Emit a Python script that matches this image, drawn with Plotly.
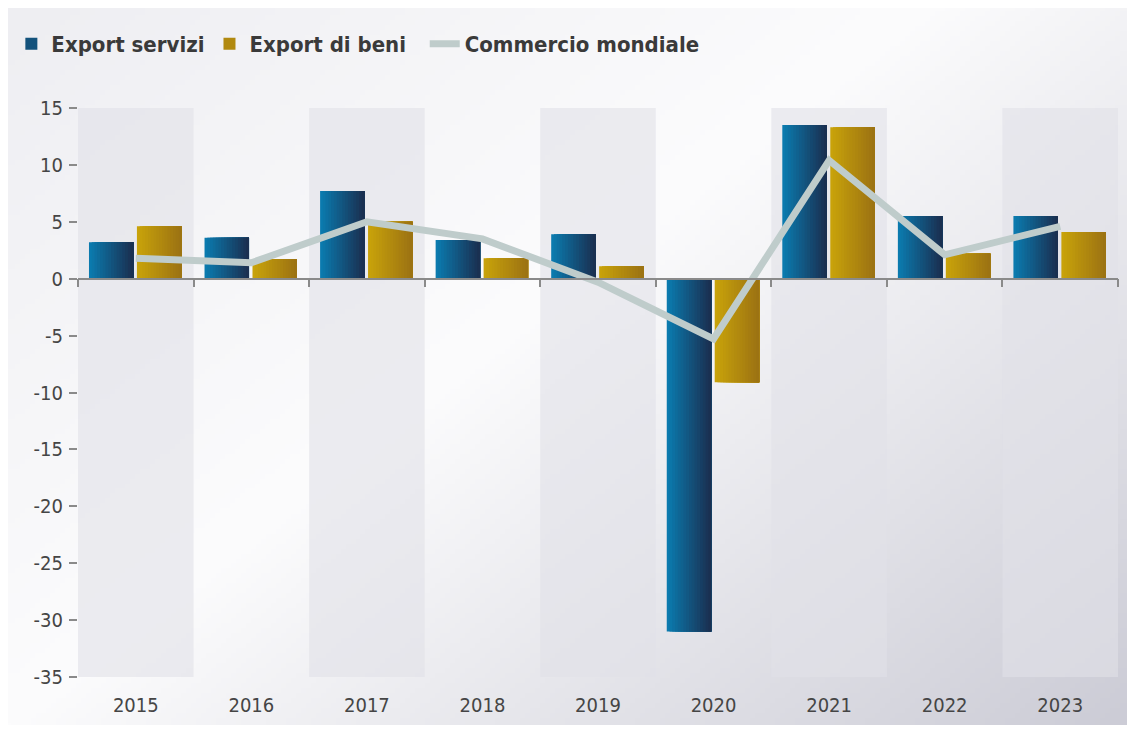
import base64
import struct
import zlib

import numpy as np
import plotly.graph_objects as go

# data (variazioni %)
years = ["2015", "2016", "2017", "2018", "2019", "2020", "2021", "2022", "2023"]
export_servizi = [3.2, 3.6, 7.7, 3.4, 3.9, -31.0, 13.5, 5.5, 5.5]
export_beni = [4.6, 1.7, 5.0, 1.8, 1.1, -9.1, 13.3, 2.2, 4.1]
commercio_mondiale = [1.8, 1.4, 5.0, 3.5, -0.3, -5.3, 10.4, 2.1, 4.6]
y_ticks = [15, 10, 5, 0, -5, -10, -15, -20, -25, -30, -35]
y_ticktext = ["15", "10", "5", "0", "-5", "-10", "-15", "-20", "-25", "-30", "-35"]

# page body has an 8px margin, so the figure is a bit smaller than the window
W, H = 1119, 717
ML, MR, MT, MB = 70, 9, 100, 48
FONT = "DejaVu Sans Condensed, Liberation Sans Narrow, sans-serif"


def lerp_hex(c1, c2, t):
    a = [int(c1[i:i + 2], 16) for i in (1, 3, 5)]
    b = [int(c2[i:i + 2], 16) for i in (1, 3, 5)]
    return "#" + "".join(f"{round(x + (y - x) * t):02x}" for x, y in zip(a, b))


def gradient_png():
    # diagonal light grey -> white -> grey background, small png stretched over the page
    w, h = 224, 144
    xs = np.linspace(0, 1, w)[None, :]
    ys = np.linspace(0, 1, h)[:, None]
    t = xs * 0.55 + ys * 0.45
    stops = [(0.0, (238, 238, 242)), (0.45, (252, 252, 253)), (1.0, (204, 204, 214))]
    img = np.zeros((h, w, 3))
    for ch in range(3):
        img[..., ch] = np.interp(t, [s[0] for s in stops], [s[1][ch] for s in stops])
    img = img.astype(np.uint8)
    raw = b"".join(b"\x00" + row.tobytes() for row in img)

    def chunk(tag, data):
        c = tag + data
        return struct.pack(">I", len(data)) + c + struct.pack(">I", zlib.crc32(c) & 0xffffffff)

    png = b"\x89PNG\r\n\x1a\n"
    png += chunk(b"IHDR", struct.pack(">IIBBBBB", w, h, 8, 2, 0, 0, 0))
    png += chunk(b"IDAT", zlib.compress(raw, 9))
    png += chunk(b"IEND", b"")
    return "data:image/png;base64," + base64.b64encode(png).decode()


fig = go.Figure()

# bars with a horizontal gradient: slices painted left to right, each one
# running to the bar's right edge so there are no seams
N = 16
bar_w = 0.385
series = [
    ("Export servizi", export_servizi, "#0b7db1", "#1a2d4e", -0.405),
    ("Export di beni\u00a0\u00a0", export_beni, "#c9a40a", "#9b7113", 0.01),
]
for name, vals, c1, c2, off in series:
    step = bar_w / N
    for i in range(N):
        fig.add_trace(go.Bar(
            x=years, y=vals, name=name,
            width=bar_w - i * step, offset=off + i * step,
            marker=dict(color=lerp_hex(c1, c2, (i + 0.5) / N), line=dict(width=0)),
            legendgroup=name, showlegend=(i == N // 2),
            hoverinfo="skip" if i != N - 1 else None,
        ))

fig.add_trace(go.Scatter(
    x=years, y=commercio_mondiale, name="Commercio mondiale",
    mode="lines", line=dict(color="#bfcccb", width=7),
))

# dummy trace so the zero-line axis gets drawn
fig.add_trace(go.Scatter(x=years, y=[None] * len(years), xaxis="x2",
                         showlegend=False, hoverinfo="skip"))

# alternating background bands
shapes = []
for i in range(0, len(years), 2):
    shapes.append(dict(type="rect", xref="x", yref="y", x0=i - 0.5, x1=i + 0.5,
                       y0=-35, y1=15, fillcolor="rgba(225,225,232,0.6)",
                       line=dict(width=0), layer="below"))

pw, ph = W - ML - MR, H - MT - MB
fig.update_layout(
    width=W, height=H,
    margin=dict(l=ML, r=MR, t=MT, b=MB),
    paper_bgcolor="white",
    plot_bgcolor="rgba(0,0,0,0)",
    barmode="overlay",
    shapes=shapes,
    images=[dict(source=gradient_png(), xref="paper", yref="paper",
                 x=-ML / pw, y=1 + MT / ph, sizex=W / pw, sizey=H / ph,
                 xanchor="left", yanchor="top", sizing="stretch", layer="below")],
    font=dict(family=FONT, color="#454545"),
    legend=dict(orientation="h", xref="container", yref="container",
                x=0.003, y=1 - 36 / H, xanchor="left", yanchor="middle",
                font=dict(size=22, color="#3a3a3a", weight="bold"),
                bgcolor="rgba(0,0,0,0)", itemwidth=30, tracegroupgap=0),
    xaxis=dict(type="category", range=[-0.5, 8.5], showline=False, ticks="",
               showgrid=False, tickfont=dict(size=20, color="#454545"),
               ticklabelstandoff=14),
    xaxis2=dict(type="category", matches="x", overlaying="x", anchor="free",
                position=35 / 50, showline=True, linecolor="#8a8a8a", linewidth=1.5,
                ticks="outside", tickson="boundaries", ticklen=8, tickcolor="#8a8a8a",
                tickwidth=1.5, showticklabels=False, showgrid=False),
    yaxis=dict(range=[-35, 15], tickvals=y_ticks, ticktext=y_ticktext,
               showgrid=False, zeroline=False, showline=False, ticks="outside",
               ticklen=8, tickcolor="#8a8a8a", tickwidth=1.5,
               tickfont=dict(size=20, color="#454545"), ticklabelstandoff=2),
)

fig.write_html("out.html")
